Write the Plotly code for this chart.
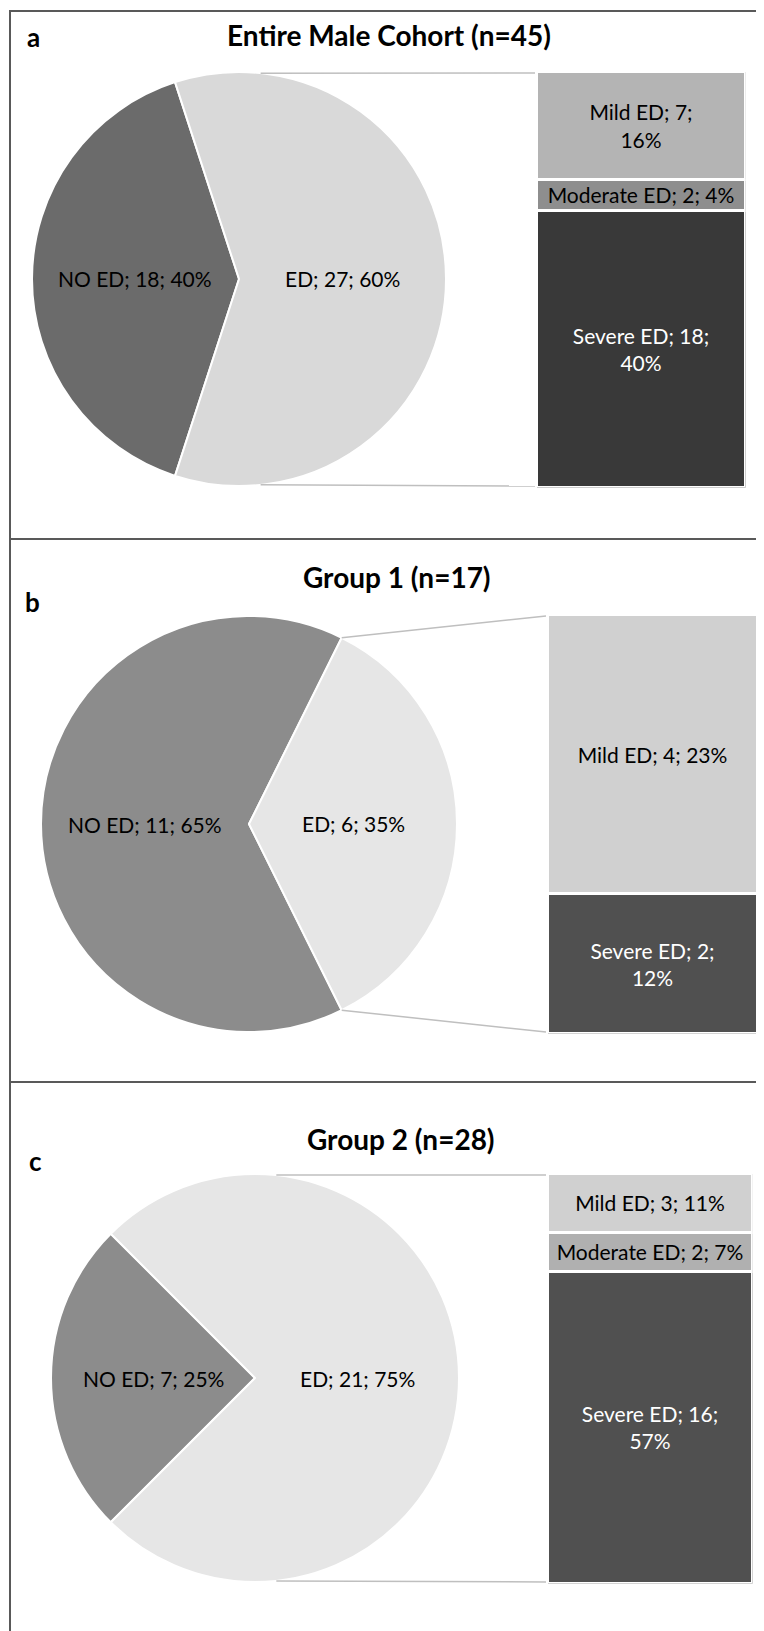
import math
import plotly.graph_objects as go

W, H = 764, 1631
FONT = "Lato"

# ---------------- data ----------------
titles = ["Entire Male Cohort (n=45)", "Group 1 (n=17)", "Group 2 (n=28)"]
letters = ["a", "b", "c"]

pie_labels = ["NO ED", "ED"]
pie_a_values = [18, 27]
pie_a_pct = ["40%", "60%"]
pie_b_values = [11, 6]
pie_b_pct = ["65%", "35%"]
pie_c_values = [7, 21]
pie_c_pct = ["25%", "75%"]

bar_a_labels = ["Mild ED", "Moderate ED", "Severe ED"]
bar_a_values = [7, 2, 18]
bar_a_pct = ["16%", "4%", "40%"]
bar_b_labels = ["Mild ED", "Severe ED"]
bar_b_values = [4, 2]
bar_b_pct = ["23%", "12%"]
bar_c_labels = ["Mild ED", "Moderate ED", "Severe ED"]
bar_c_values = [3, 2, 16]
bar_c_pct = ["11%", "7%", "57%"]

# ---------------- styles / layout geometry (px) ----------------
pie_colors = [["#6b6b6b", "#d9d9d9"], ["#8c8c8c", "#e6e6e6"], ["#8c8c8c", "#e6e6e6"]]
bar_colors = [["#b4b4b4", "#8e8e8e", "#393939"], ["#d0d0d0", "#505050"],
              ["#d0d0d0", "#b0b0b0", "#505050"]]
bar_text_colors = [["black", "black", "white"], ["black", "white"], ["black", "black", "white"]]
bar_label_breaks = [[True, False, True], [False, True], [False, False, True]]

pie_geom = [(231, 271, 207), (241, 816, 208), (247, 1370, 204)]   # cx, cy, r
bar_geom = [(530, 736, 65, 478), (541, 748, 608, 1024), (541, 743, 1167, 1574)]
title_pos = [(381, 27), (389, 569), (393, 1131)]
letter_pos = [(25, 29), (24, 594), (27, 1153)]
LABEL_SIZE = 21
TITLE_SIZE = 28
LETTER_SIZE = 26

panels = [
    (pie_a_values, pie_a_pct, bar_a_labels, bar_a_values, bar_a_pct),
    (pie_b_values, pie_b_pct, bar_b_labels, bar_b_values, bar_b_pct),
    (pie_c_values, pie_c_pct, bar_c_labels, bar_c_values, bar_c_pct),
]


def px(x):
    return x / W


def py(y):
    return 1 - y / H


fig = go.Figure()
annotations = []
shapes = []
layout_axes = {}

for i, (pv, ppct, bl, bv, bpct) in enumerate(panels):
    cx, cy, r = pie_geom[i]
    total = sum(pv)
    # start NO ED so that it is centred on the left (9 o'clock)
    start = 270 - pv[0] / total * 360 / 2
    rot = ((start + 180) % 360) - 180
    fig.add_trace(go.Pie(
        labels=pie_labels, values=pv, sort=False, direction="clockwise",
        rotation=rot, textinfo="none", hoverinfo="label+value+percent",
        marker=dict(colors=pie_colors[i], line=dict(color="white", width=2)),
        domain=dict(x=[px(cx - r), px(cx + r)], y=[py(cy + r), py(cy - r)]),
        showlegend=False,
    ))
    # slice labels at half radius on bisector
    cum = 0
    for lab, v, pc in zip(pie_labels, pv, ppct):
        ang = math.radians(start + (cum + v / 2) / total * 360)
        cum += v
        lx = cx + 0.5 * r * math.sin(ang)
        ly = cy - 0.5 * r * math.cos(ang)
        annotations.append(dict(
            x=px(lx), y=py(ly), xref="paper", yref="paper", showarrow=False,
            text=f"{lab}; {v}; {pc}", font=dict(family=FONT, size=LABEL_SIZE, color="black"),
            xanchor="center", yanchor="middle"))

    # stacked bar (bar-of-pie)
    x0, x1, y0, y1 = bar_geom[i]
    k = i + 1
    xa = "x" if k == 1 else f"x{k}"
    ya = "y" if k == 1 else f"y{k}"
    layout_axes["xaxis" if k == 1 else f"xaxis{k}"] = dict(
        domain=[px(x0 - 1.5), px(x1 + 1.5)], range=[-0.5, 0.5], visible=False,
        fixedrange=True, anchor=ya)
    layout_axes["yaxis" if k == 1 else f"yaxis{k}"] = dict(
        domain=[py(y1 + 1.5), py(y0 - 1.5)], range=[0, sum(bv)], visible=False,
        fixedrange=True, anchor=xa)
    for j in reversed(range(len(bv))):
        sep = ";<br>" if bar_label_breaks[i][j] else "; "
        fig.add_trace(go.Bar(
            x=[0], y=[bv[j]], width=1, xaxis=xa, yaxis=ya, name=bl[j],
            marker=dict(color=bar_colors[i][j], line=dict(color="white", width=3)),
            text=[f"{bl[j]}; {bv[j]}{sep}{bpct[j]}"], textposition="inside",
            insidetextanchor="middle", textangle=0, constraintext="none",
            textfont=dict(family=FONT, size=LABEL_SIZE, color=bar_text_colors[i][j]),
            showlegend=False, hoverinfo="name+y",
        ))

    # leader lines
    if i == 1:
        a_top = math.radians(start + pv[0] / total * 360)   # ED slice start (upper edge)
        a_bot = math.radians(start + 360)                    # ED slice end (lower edge)
    else:
        a_top, a_bot = math.radians(6), math.radians(174)
    for a_, yb in ((a_top, y0), (a_bot, y1)):
        sx = cx + r * math.sin(a_)
        sy = cy - r * math.cos(a_)
        shapes.append(dict(type="line", xref="paper", yref="paper",
                           x0=px(sx), y0=py(sy), x1=px(x0 - 3), y1=py(yb),
                           line=dict(color="#bfbfbf", width=1.5)))

    tx, ty = title_pos[i]
    annotations.append(dict(x=px(tx), y=py(ty), xref="paper", yref="paper", showarrow=False,
                            text=f"<b>{titles[i]}</b>", xanchor="center", yanchor="middle",
                            font=dict(family=FONT, size=TITLE_SIZE, color="black")))
    lx_, ly_ = letter_pos[i]
    annotations.append(dict(x=px(lx_), y=py(ly_), xref="paper", yref="paper", showarrow=False,
                            text=f"<b>{letters[i]}</b>", xanchor="center", yanchor="middle",
                            font=dict(family=FONT, size=LETTER_SIZE, color="black")))

# panel borders
shapes.append(dict(type="rect", xref="paper", yref="paper", x0=px(2), x1=px(761),
                   y0=py(1627), y1=py(3), line=dict(color="#595959", width=2)))
for yy in (531, 1074):
    shapes.append(dict(type="line", xref="paper", yref="paper", x0=px(2), x1=px(761),
                       y0=py(yy), y1=py(yy), line=dict(color="#595959", width=2)))

fig.update_layout(
    width=W, height=H, margin=dict(l=0, r=0, t=0, b=0),
    paper_bgcolor="white", plot_bgcolor="white", barmode="stack",
    annotations=annotations, shapes=shapes, showlegend=False,
    font=dict(family=FONT), **layout_axes,
)

fig.write_html("out.html")
